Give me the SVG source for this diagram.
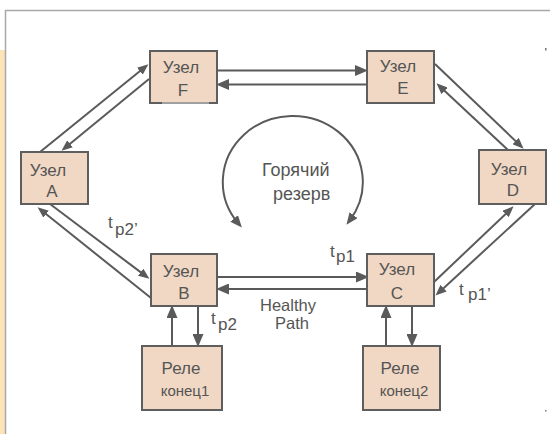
<svg xmlns="http://www.w3.org/2000/svg" width="550" height="434" viewBox="0 0 550 434">
<style>
.node rect{fill:#F0D8C4;stroke:#5E5E5E;stroke-width:2}
.t{font-family:"Liberation Sans",Arial,sans-serif;fill:#555;font-size:17px}
.c{text-anchor:middle}
.ln{stroke:#5A5A5A;fill:none;stroke-width:2}
.thin{marker-end:url(#ah)}
.big{marker-end:url(#ahb)}
</style>
<defs>
<marker id="ah" markerUnits="userSpaceOnUse" markerWidth="11" markerHeight="9" refX="7" refY="4.5" orient="auto"><path d="M0,0 L11,4.5 L0,9 z" fill="#5A5A5A"/></marker>
<marker id="ahb" markerUnits="userSpaceOnUse" markerWidth="13" markerHeight="11" refX="6" refY="5.5" orient="auto"><path d="M0,0 L13,5.5 L0,11 z" fill="#5A5A5A"/></marker>
<marker id="ahc" markerUnits="userSpaceOnUse" markerWidth="12" markerHeight="10" refX="6" refY="5" orient="auto-start-reverse"><path d="M0,0 L12,5 L0,10 z" fill="#5A5A5A"/></marker>
</defs>
<rect x="0" y="0" width="550" height="434" fill="#fff"/>
<rect x="0" y="50" width="5" height="384" fill="#FDE3B8"/>
<path d="M5.5,434 V10.5 H550" fill="none" stroke="#A8A8A8" stroke-width="1.5"/>
<rect x="545" y="48" width="1.5" height="2.5" fill="#777"/>
<rect x="545" y="410" width="1.5" height="1.5" fill="#777"/>

<g id="connectors">
<line class="ln big" x1="217" y1="70.5" x2="361" y2="70.5" stroke-width="4"/>
<line class="ln big" x1="367" y1="84.5" x2="223" y2="84.5" stroke-width="3.5"/>
<line class="ln big" x1="217" y1="277" x2="362" y2="277" stroke-width="3.5"/>
<line class="ln big" x1="367" y1="289" x2="223" y2="289" stroke-width="5"/>
<line class="ln thin" x1="40" y1="152" x2="145.3" y2="66.8"/>
<line class="ln thin" x1="149" y1="79" x2="64.6" y2="148.2"/>
<line class="ln thin" x1="435" y1="64" x2="520.7" y2="145.9"/>
<line class="ln thin" x1="508" y1="150" x2="439.4" y2="86.1"/>
<line class="ln thin" x1="50" y1="204" x2="146.2" y2="276.4"/>
<line class="ln thin" x1="151" y1="298" x2="40.7" y2="209.8"/>
<line class="ln thin" x1="434" y1="282" x2="510.7" y2="209.1"/>
<line class="ln thin" x1="535" y1="204" x2="438.4" y2="292.9"/>
<line class="ln big" x1="172" y1="346" x2="172" y2="312"/>
<line class="ln big" x1="198" y1="306" x2="198" y2="340"/>
<line class="ln big" x1="386" y1="346" x2="386" y2="312"/>
<line class="ln big" x1="412" y1="306" x2="412" y2="340"/>
<path class="ln" d="M238,223 A70 66 0 1 1 350,220" marker-start="url(#ahc)" marker-end="url(#ahc)"/>
</g>

<g id="nodeF" class="node"><rect x="150" y="51" width="67" height="52"/><line x1="162" y1="103" x2="209" y2="103" stroke="#A0A0A0" stroke-width="2"/><text class="t c" x="181" y="73">Узел</text><text class="t c" x="183" y="96">F</text></g>
<g id="nodeE" class="node"><rect x="367" y="51" width="67" height="52"/><text class="t c" x="398" y="72">Узел</text><text class="t c" x="403" y="94">E</text></g>
<g id="nodeA" class="node"><rect x="21" y="152" width="67" height="52"/><text class="t c" x="48" y="176">Узел</text><text class="t c" x="52" y="197">A</text></g>
<g id="nodeD" class="node"><rect x="479" y="150" width="67" height="54"/><text class="t c" x="509" y="175">Узел</text><text class="t c" x="513" y="196">D</text></g>
<g id="nodeB" class="node"><rect x="151" y="254" width="66" height="52"/><text class="t c" x="181" y="277">Узел</text><text class="t c" x="184" y="299">B</text></g>
<g id="nodeC" class="node"><rect x="367" y="254" width="67" height="52"/><text class="t c" x="397" y="275">Узел</text><text class="t c" x="397" y="299">C</text></g>
<g id="relay1" class="node"><rect x="142" y="346" width="80" height="64"/><text class="t c" x="181" y="374">Реле</text><text class="t c" x="185" y="396" style="font-size:15px">конец1</text></g>
<g id="relay2" class="node"><rect x="363" y="346" width="77" height="64"/><text class="t c" x="400" y="374">Реле</text><text class="t c" x="404" y="396" style="font-size:15px">конец2</text></g>

<g id="labels">
<text class="t" x="262" y="176" style="font-size:18px">Горячий</text>
<text class="t" x="273" y="200" style="font-size:18px">резерв</text>
<text class="t" x="260" y="311" style="font-size:16.5px">Healthy</text>
<text class="t" x="275" y="329" style="font-size:16.5px">Path</text>
<text class="t" x="108" y="228">t</text><text class="t" x="115" y="235">p2’</text>
<text class="t" x="211" y="324">t</text><text class="t" x="218" y="330">p2</text>
<text class="t" x="330" y="257">t</text><text class="t" x="336" y="262">p1</text>
<text class="t" x="459" y="295">t</text><text class="t" x="468" y="300">p1’</text>
</g>
</svg>
